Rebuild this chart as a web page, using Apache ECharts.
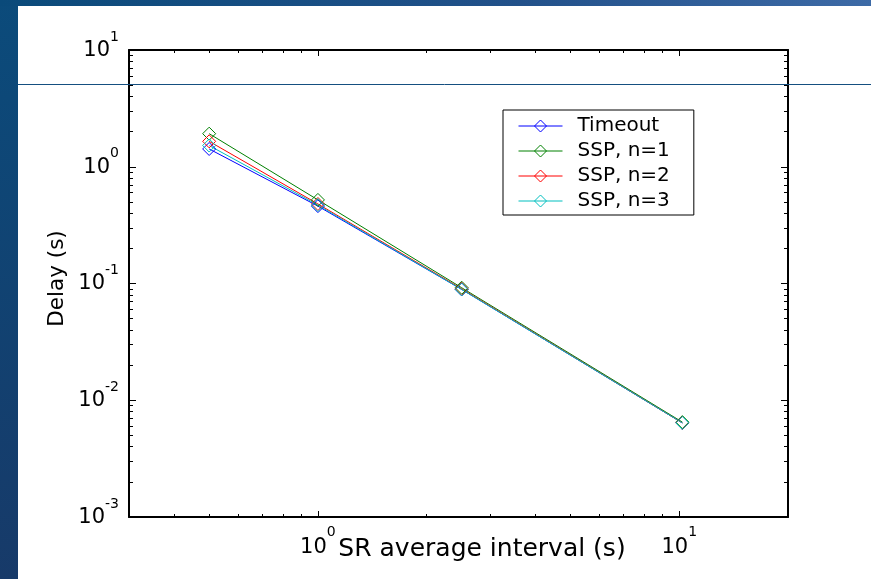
<!DOCTYPE html>
<html>
<head>
<meta charset="utf-8">
<script src="https://cdn.jsdelivr.net/npm/echarts@6/dist/echarts.min.js"></script>
<style>
  html, body { margin: 0; padding: 0; background: #fff; }
  #chart { width: 871px; height: 579px; }
</style>
</head>
<body>
<div id="chart"></div>
<script>
// SR average interval (s)
const intervals = [0.5, 1, 2.5, 10.2]
// delay (s) per scheme
const timeoutDelay = [1.42, 0.46, 0.089, 0.0064]
const ssp1Delay = [1.92, 0.52, 0.092, 0.0065]
const ssp2Delay = [1.65, 0.48, 0.090, 0.0064]
const ssp3Delay = [1.52, 0.47, 0.089, 0.0064]
const seriesNames = ['Timeout', 'SSP, n=1', 'SSP, n=2', 'SSP, n=3']

// axis ranges and ticks (raw values, drawn on log10 axes)
const xRange = [0.3, 20]
const yRange = [0.001, 10]
const xMajorTicks = [1, 10]
const xMinorTicks = [0.3, 0.4, 0.5, 0.6, 0.7, 0.8, 0.9, 2, 3, 4, 5, 6, 7, 8, 9, 20]
const yMajorTicks = [0.001, 0.01, 0.1, 1, 10]
const yMinorTicks = [
  0.002, 0.003, 0.004, 0.005, 0.006, 0.007, 0.008, 0.009,
  0.02, 0.03, 0.04, 0.05, 0.06, 0.07, 0.08, 0.09,
  0.2, 0.3, 0.4, 0.5, 0.6, 0.7, 0.8, 0.9,
  2, 3, 4, 5, 6, 7, 8, 9,
]

const colors = ['#0000ff', '#008000', '#ff0000', '#00bfbf']
const FONT = '"DejaVu Sans", "Liberation Sans", Arial, sans-serif'
const lg = (v) => Math.log10(v)

// "10" with a raised exponent; y labels get extra bottom padding on the base
// so the "10" stays centred on its tick
function supRich(basePad, supPad) {
  return {
    b: { fontSize: 21, fontFamily: FONT, color: '#000', verticalAlign: 'bottom', padding: [0, 0, basePad, 0] },
    s: { fontSize: 14, fontFamily: FONT, color: '#000', verticalAlign: 'bottom', padding: [0, 0, supPad, 0] },
  }
}
const supFormatter = (v) => '{b|10}{s|' + Math.round(v) + '}'

function tickAxis(position, range, ticks, len, showLine, extra) {
  return Object.assign({
    type: 'value',
    position,
    min: lg(range[0]),
    max: lg(range[1]),
    splitLine: { show: false },
    axisLine: { show: showLine, onZero: false, lineStyle: { color: '#000', width: 2 } },
    axisTick: { show: true, inside: true, length: len, customValues: ticks.map(lg), lineStyle: { color: '#000', width: 1 } },
    axisLabel: { show: false },
  }, extra || {})
}

const chart = echarts.init(document.getElementById('chart'), null, { renderer: 'canvas' })

const allDelays = [timeoutDelay, ssp1Delay, ssp2Delay, ssp3Delay]

chart.setOption({
  backgroundColor: '#fff',
  animation: false,
  graphic: [
    {
      type: 'rect', z: -10, silent: true,
      shape: { x: 0, y: 0, width: 18, height: 579 },
      style: { fill: new echarts.graphic.LinearGradient(0, 0, 0, 1, [
        { offset: 0, color: '#0b4b7b' }, { offset: 1, color: '#173a69' },
      ]) },
    },
    {
      type: 'rect', z: -10, silent: true,
      shape: { x: 0, y: 0, width: 871, height: 6 },
      style: { fill: new echarts.graphic.LinearGradient(0, 0, 1, 0, [
        { offset: 0, color: '#0a4a7a' }, { offset: 0.6, color: '#22518a' }, { offset: 1, color: '#3d6aa6' },
      ]) },
    },
    {
      type: 'line', z: 100, silent: true,
      shape: { x1: 18, y1: 84.5, x2: 871, y2: 84.5 },
      style: { stroke: '#154f80', lineWidth: 1 },
    },
  ],
  grid: { left: 129, top: 50, right: 83, bottom: 62, containLabel: false, outerBoundsMode: 'none' },
  legend: {
    orient: 'vertical',
    left: 503,
    top: 110,
    padding: [6, 24, 4, 15],
    backgroundColor: '#fff',
    borderColor: '#000',
    borderWidth: 1,
    borderRadius: 0,
    itemWidth: 44,
    itemHeight: 15,
    itemGap: 5,
    itemStyle: { borderWidth: 1 },
    lineStyle: { width: 1 },
    textStyle: { fontSize: 20, fontFamily: FONT, color: '#000', padding: [0, 0, 0, 10] },
    data: seriesNames,
  },
  xAxis: [
    tickAxis('bottom', xRange, xMajorTicks, 6, true, {
      name: 'SR average interval (s)',
      nameLocation: 'middle',
      nameGap: 20,
      nameMoveOverlap: false,
      nameTextStyle: { fontSize: 25, fontFamily: FONT, color: '#000', padding: [0, 0, 0, 47] },
      axisLabel: { show: true, margin: 8, customValues: xMajorTicks.map(lg), formatter: supFormatter, rich: supRich(0, 19) },
    }),
    tickAxis('bottom', xRange, xMinorTicks, 3, false),
    tickAxis('top', xRange, xMajorTicks, 6, true),
    tickAxis('top', xRange, xMinorTicks, 3, false),
  ],
  yAxis: [
    tickAxis('left', yRange, yMajorTicks, 7, true, {
      name: 'Delay (s)',
      nameLocation: 'middle',
      nameGap: 61,
      nameMoveOverlap: false,
      nameTextStyle: { fontSize: 21.5, fontFamily: FONT, color: '#000', padding: [0, 0, 0, 10] },
      axisLabel: { show: true, margin: 10, customValues: yMajorTicks.map(lg), formatter: supFormatter, rich: supRich(9, 26) },
    }),
    tickAxis('left', yRange, yMinorTicks, 4, false),
    tickAxis('right', yRange, yMajorTicks, 7, true),
    tickAxis('right', yRange, yMinorTicks, 4, false),
  ],
  series: seriesNames.map((name, i) => ({
    name,
    type: 'line',
    xAxisIndex: 0,
    yAxisIndex: 0,
    color: colors[i],
    symbol: 'diamond',
    symbolSize: 13,
    showAllSymbol: true,
    lineStyle: { color: colors[i], width: 1 },
    itemStyle: { color: 'rgba(255,255,255,0)', borderColor: colors[i], borderWidth: 1 },
    emphasis: { disabled: true },
    data: intervals.map((x, k) => [lg(x), lg(allDelays[i][k])]),
  })),
})
</script>
</body>
</html>
